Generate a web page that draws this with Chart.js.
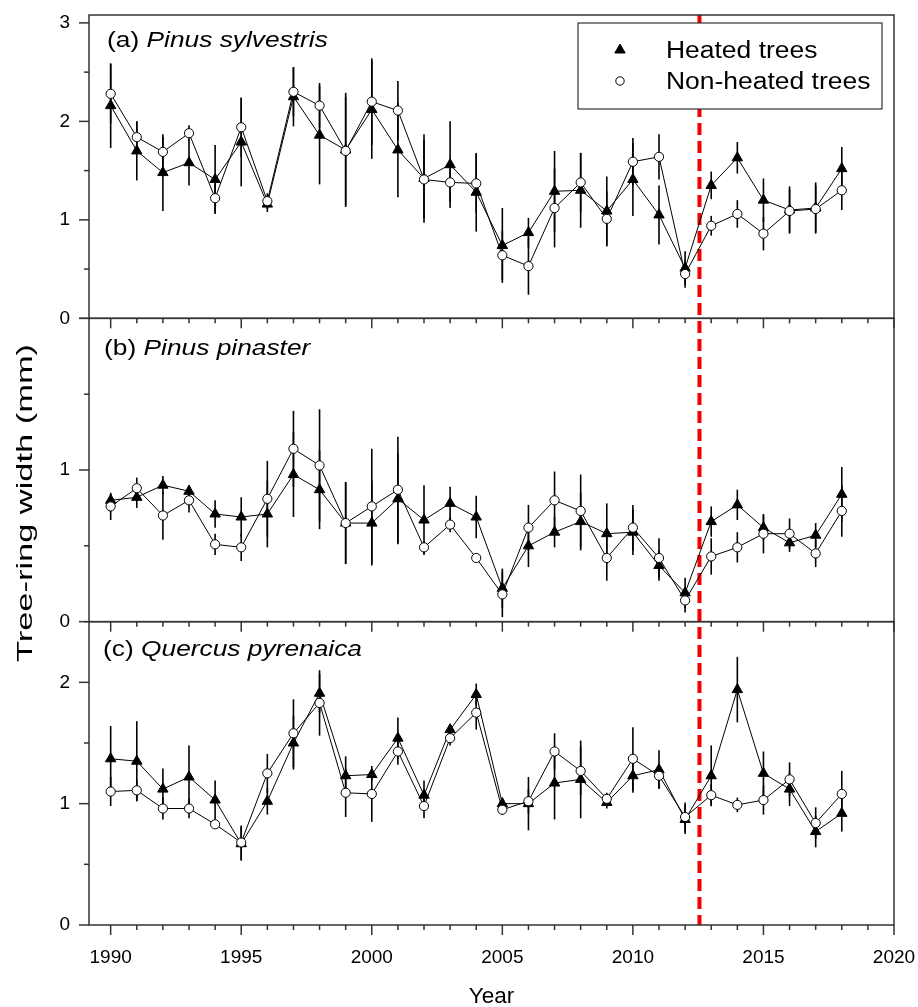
<!DOCTYPE html>
<html>
<head>
<meta charset="utf-8">
<title>Tree-ring width, heated vs non-heated trees</title>
<script src="https://cdn.jsdelivr.net/npm/chart.js@4.4.1/dist/chart.umd.min.js"></script>
<style>
  html, body { margin: 0; padding: 0; background: #fff; }
  #wrap { position: relative; width: 918px; height: 1007px; }
</style>
</head>
<body>
<div id="wrap"><canvas id="chart"></canvas></div>
<script>
// ── Data ───────────────────────────────────────────────────────────────────

const YEARS = [1990, 1991, 1992, 1993, 1994, 1995, 1996, 1997, 1998, 1999,
               2000, 2001, 2002, 2003, 2004, 2005, 2006, 2007, 2008, 2009,
               2010, 2011, 2012, 2013, 2014, 2015, 2016, 2017, 2018];

// (a) Pinus sylvestris
const PS_HEATED     = [2.16, 1.70, 1.48, 1.58, 1.41, 1.79, 1.16, 2.25, 1.86, 1.71,
                       2.12, 1.71, 1.42, 1.56, 1.28, 0.74, 0.87, 1.29, 1.30, 1.09,
                       1.41, 1.05, 0.51, 1.35, 1.63, 1.20, 1.10, 1.12, 1.52];
const PS_HEATED_SE  = [0.43, 0.30, 0.39, 0.23, 0.35, 0.45, 0.08, 0.30, 0.50, 0.58,
                       0.50, 0.48, 0.45, 0.44, 0.40, 0.38, 0.15, 0.41, 0.38, 0.35,
                       0.37, 0.30, 0.17, 0.14, 0.16, 0.22, 0.24, 0.26, 0.22];
const PS_CONTROL    = [2.28, 1.84, 1.69, 1.88, 1.22, 1.94, 1.19, 2.30, 2.16, 1.70,
                       2.20, 2.11, 1.41, 1.38, 1.37, 0.64, 0.53, 1.12, 1.38, 1.01,
                       1.59, 1.64, 0.45, 0.94, 1.06, 0.86, 1.09, 1.11, 1.30];
const PS_CONTROL_SE = [0.30, 0.16, 0.15, 0.08, 0.15, 0.30, 0.08, 0.25, 0.23, 0.55,
                       0.44, 0.30, 0.40, 0.20, 0.30, 0.25, 0.29, 0.40, 0.30, 0.28,
                       0.24, 0.23, 0.14, 0.10, 0.14, 0.17, 0.22, 0.24, 0.20];

// (b) Pinus pinaster
const PP_HEATED     = [0.80, 0.82, 0.90, 0.86, 0.71, 0.69, 0.71, 0.97, 0.87, 0.65,
                       0.65, 0.81, 0.67, 0.78, 0.69, 0.22, 0.50, 0.59, 0.66, 0.58,
                       0.59, 0.37, 0.19, 0.66, 0.77, 0.62, 0.52, 0.57, 0.84];
const PP_HEATED_SE  = [0.04, 0.07, 0.06, 0.04, 0.09, 0.13, 0.22, 0.28, 0.26, 0.27,
                       0.28, 0.30, 0.23, 0.11, 0.14, 0.13, 0.14, 0.10, 0.19, 0.20,
                       0.15, 0.10, 0.10, 0.10, 0.10, 0.08, 0.06, 0.08, 0.18];
const PP_CONTROL    = [0.76, 0.88, 0.70, 0.80, 0.51, 0.49, 0.81, 1.14, 1.03, 0.65,
                       0.76, 0.87, 0.49, 0.64, 0.42, 0.18, 0.62, 0.80, 0.73, 0.42,
                       0.62, 0.42, 0.14, 0.43, 0.49, 0.58, 0.58, 0.45, 0.73];
const PP_CONTROL_SE = [0.09, 0.07, 0.16, 0.08, 0.07, 0.09, 0.25, 0.25, 0.37, 0.27,
                       0.38, 0.35, 0.04, 0.05, 0.02, 0.15, 0.15, 0.19, 0.24, 0.15,
                       0.15, 0.13, 0.08, 0.12, 0.10, 0.13, 0.10, 0.09, 0.17];

// (c) Quercus pyrenaica
const QP_HEATED     = [1.37, 1.35, 1.12, 1.22, 1.03, 0.67, 1.02, 1.50, 1.91, 1.23,
                       1.24, 1.54, 1.07, 1.61, 1.90, 1.00, 1.00, 1.17, 1.20, 1.01,
                       1.23, 1.28, 0.87, 1.23, 1.94, 1.25, 1.12, 0.77, 0.92];
const QP_HEATED_SE  = [0.27, 0.33, 0.17, 0.26, 0.16, 0.14, 0.11, 0.22, 0.16, 0.16,
                       0.05, 0.17, 0.12, 0.04, 0.09, 0.05, 0.22, 0.30, 0.32, 0.05,
                       0.14, 0.16, 0.12, 0.25, 0.27, 0.18, 0.14, 0.13, 0.15];
const QP_CONTROL    = [1.10, 1.11, 0.96, 0.96, 0.83, 0.68, 1.25, 1.58, 1.83, 1.09,
                       1.08, 1.43, 0.98, 1.54, 1.75, 0.95, 1.02, 1.43, 1.27, 1.04,
                       1.37, 1.23, 0.89, 1.07, 0.99, 1.03, 1.20, 0.84, 1.08];
const QP_CONTROL_SE = [0.12, 0.09, 0.09, 0.08, 0.03, 0.14, 0.16, 0.28, 0.27, 0.20,
                       0.23, 0.11, 0.10, 0.06, 0.14, 0.04, 0.10, 0.15, 0.20, 0.05,
                       0.26, 0.10, 0.12, 0.09, 0.06, 0.12, 0.14, 0.13, 0.19];

const SERIES_LABELS = ['Heated trees', 'Non-heated trees'];
const PANEL_TAGS    = ['(a)', '(b)', '(c)'];
const PANEL_SPECIES = ['Pinus sylvestris', 'Pinus pinaster', 'Quercus pyrenaica'];
const PANEL_Y_MAX   = [3.08, 2, 2.5];
const X_RANGE       = [1989.17, 2020];
const HEATING_START = 2012.55;
const X_TITLE = 'Year';
const Y_TITLE = 'Tree-ring width (mm)';

// ── Styling ────────────────────────────────────────────────────────────────

const FONT = "Arial, 'Liberation Sans', Helvetica, sans-serif";
const INK = '#000';
const FRAME = '#333';
const PANEL_IDS = ['ya', 'yb', 'yc'];

const toPoints = vals => YEARS.map((x, i) => ({ x, y: vals[i] }));

function heatedSet(vals, se, axis) {
  return {
    label: SERIES_LABELS[0], data: toPoints(vals), errors: se, yAxisID: axis,
    borderColor: INK, borderWidth: 1, tension: 0, order: 2,
    pointStyle: 'triangle', pointRadius: 6,
    pointBackgroundColor: INK, pointBorderColor: INK, pointBorderWidth: 1,
  };
}

function controlSet(vals, se, axis) {
  return {
    label: SERIES_LABELS[1], data: toPoints(vals), errors: se, yAxisID: axis,
    borderColor: INK, borderWidth: 1, tension: 0, order: 1,
    pointStyle: 'circle', pointRadius: 4.6,
    pointBackgroundColor: '#fff', pointBorderColor: INK, pointBorderWidth: 1,
  };
}

function panelScale(max, weight) {
  return {
    type: 'linear', position: 'left', stack: 'panels', stackWeight: 1, weight,
    min: 0, max,
    grid: { display: false, drawTicks: false },
    border: { display: false },
    ticks: {
      stepSize: 0.5, includeBounds: false, autoSkip: false, padding: 19,
      color: INK, font: { family: FONT, size: 19 },
      callback(v) { return Number.isInteger(v) && v < this.max ? String(v) : ''; },
    },
    afterFit(s) {
      s.width = 89;
      s.paddingTop = 0;
      s.paddingBottom = 0;
    },
  };
}

// ── Drawing helpers ────────────────────────────────────────────────────────

function segment(ctx, x1, y1, x2, y2) {
  ctx.beginPath();
  ctx.moveTo(x1, y1);
  ctx.lineTo(x2, y2);
  ctx.stroke();
}

function stretchedText(ctx, text, x, y, sx) {
  ctx.save();
  ctx.translate(x, y);
  ctx.scale(sx, 1);
  ctx.fillText(text, 0, 0);
  ctx.restore();
  return ctx.measureText(text).width * sx;
}

function marker(ctx, style, x, y, r) {
  ctx.beginPath();
  if (style === 'triangle') {
    ctx.moveTo(x, y - r);
    ctx.lineTo(x + r * 0.866, y + r / 2);
    ctx.lineTo(x - r * 0.866, y + r / 2);
    ctx.closePath();
    ctx.fillStyle = INK;
  } else {
    ctx.arc(x, y, r, 0, Math.PI * 2);
    ctx.fillStyle = '#fff';
  }
  ctx.fill();
  ctx.strokeStyle = INK;
  ctx.lineWidth = 1;
  ctx.stroke();
}

// ── Plugin: error bars, heating line, frames, ticks, labels ────────────────

const figureDecor = {
  id: 'figureDecor',

  beforeDatasetsDraw(chart) {
    const { ctx, chartArea, scales } = chart;
    const xs = scales.x;

    // start of heating
    ctx.save();
    ctx.strokeStyle = '#f00000';
    ctx.lineWidth = 4;
    ctx.setLineDash([12, 6]);
    const hx = xs.getPixelForValue(HEATING_START);
    segment(ctx, hx, chartArea.top, hx, chartArea.bottom);
    ctx.restore();

    // error bars (under the markers)
    ctx.save();
    ctx.strokeStyle = INK;
    ctx.lineWidth = 1.6;
    chart.data.datasets.forEach((ds, i) => {
      const ys = scales[ds.yAxisID];
      chart.getDatasetMeta(i).data.forEach((pt, j) => {
        const v = ds.data[j].y, e = ds.errors[j];
        segment(ctx, pt.x, ys.getPixelForValue(v + e), pt.x, ys.getPixelForValue(v - e));
      });
    });
    ctx.restore();
  },

  afterDatasetsDraw(chart) {
    const { ctx, scales } = chart;
    const xs = scales.x;
    ctx.save();
    ctx.strokeStyle = FRAME;
    ctx.lineWidth = 1.5;
    PANEL_IDS.forEach(id => {
      const s = scales[id];
      ctx.strokeRect(xs.left, s.top, xs.right - xs.left, s.bottom - s.top);
      // y ticks: long on whole numbers, short on halves
      s.ticks.forEach(t => {
        if (Math.abs(t.value * 2 - Math.round(t.value * 2)) > 1e-6) return;
        const len = Number.isInteger(t.value) ? 10 : 5;
        const py = s.getPixelForValue(t.value);
        segment(ctx, xs.left - len, py, xs.left, py);
      });
      // year ticks hanging below every panel
      xs.ticks.forEach(t => {
        if (!Number.isInteger(t.value)) return;
        const len = t.value % 5 === 0 ? 10 : 5;
        const px = xs.getPixelForValue(t.value);
        segment(ctx, px, s.bottom, px, s.bottom + len);
      });
    });
    ctx.restore();
  },

  afterDraw(chart) {
    const { ctx, chartArea, scales } = chart;
    const xs = scales.x;
    ctx.save();
    ctx.fillStyle = INK;
    ctx.textBaseline = 'alphabetic';

    // panel labels
    const dx = [18, 15, 14], dy = [32, 37, 34];
    PANEL_IDS.forEach((id, i) => {
      const s = scales[id];
      const x = chartArea.left + dx[i], y = s.top + dy[i];
      ctx.font = `22.5px ${FONT}`;
      const w = stretchedText(ctx, PANEL_TAGS[i] + ' ', x, y, 1.17);
      ctx.font = `italic 22.5px ${FONT}`;
      stretchedText(ctx, PANEL_SPECIES[i], x + w, y, 1.17);
    });

    // legend
    const box = { x: chartArea.right - 316, y: chartArea.top + 8, w: 304, h: 86 };
    ctx.fillStyle = '#fff';
    ctx.fillRect(box.x, box.y, box.w, box.h);
    ctx.strokeStyle = FRAME;
    ctx.lineWidth = 1.2;
    ctx.strokeRect(box.x, box.y, box.w, box.h);
    const rows = [
      { style: 'triangle', r: 6, y: box.y + 27 },
      { style: 'circle', r: 4.2, y: box.y + 58 },
    ];
    rows.forEach((row, i) => {
      marker(ctx, row.style, box.x + 42, row.y, row.r);
      ctx.fillStyle = INK;
      ctx.font = `23px ${FONT}`;
      stretchedText(ctx, SERIES_LABELS[i], box.x + 88, row.y + 8.2, 1.15);
    });

    // axis titles
    ctx.fillStyle = INK;
    ctx.textAlign = 'center';
    ctx.font = `22.5px ${FONT}`;
    ctx.fillText(X_TITLE, (xs.left + xs.right) / 2, 1003);

    ctx.translate(32, chartArea.top + 488);
    ctx.rotate(-Math.PI / 2);
    ctx.font = `22px ${FONT}`;
    ctx.scale(318 / ctx.measureText(Y_TITLE).width, 1);
    ctx.fillText(Y_TITLE, 0, 0);
    ctx.restore();
  },
};

// ── Chart ──────────────────────────────────────────────────────────────────

new Chart(document.getElementById('chart'), {
  type: 'line',
  data: {
    datasets: [
      heatedSet(PS_HEATED, PS_HEATED_SE, 'ya'),
      controlSet(PS_CONTROL, PS_CONTROL_SE, 'ya'),
      heatedSet(PP_HEATED, PP_HEATED_SE, 'yb'),
      controlSet(PP_CONTROL, PP_CONTROL_SE, 'yb'),
      heatedSet(QP_HEATED, QP_HEATED_SE, 'yc'),
      controlSet(QP_CONTROL, QP_CONTROL_SE, 'yc'),
    ]
  },
  options: {
    responsive: true,
    maintainAspectRatio: false,
    animation: false,
    events: [],
    layout: { padding: { top: 15, right: 24, bottom: 0, left: 0 }, autoPadding: false },
    plugins: { legend: { display: false }, tooltip: { enabled: false } },
    scales: {
      x: {
        type: 'linear', position: 'bottom',
        min: X_RANGE[0], max: X_RANGE[1],
        grid: { display: false, drawTicks: false },
        border: { display: false },
        ticks: {
          stepSize: 1, includeBounds: false, autoSkip: false,
          maxRotation: 0, padding: 21,
          color: INK, font: { family: FONT, size: 19 },
          callback: v => (v % 5 === 0 ? String(v) : ''),
        },
        afterFit(s) {
          s.height = 82;
          s.paddingLeft = 0;
          s.paddingRight = 0;
        },
      },
      yc: panelScale(PANEL_Y_MAX[2], 1),
      yb: panelScale(PANEL_Y_MAX[1], 2),
      ya: panelScale(PANEL_Y_MAX[0], 3),
    }
  },
  plugins: [figureDecor],
});
</script>
</body>
</html>
